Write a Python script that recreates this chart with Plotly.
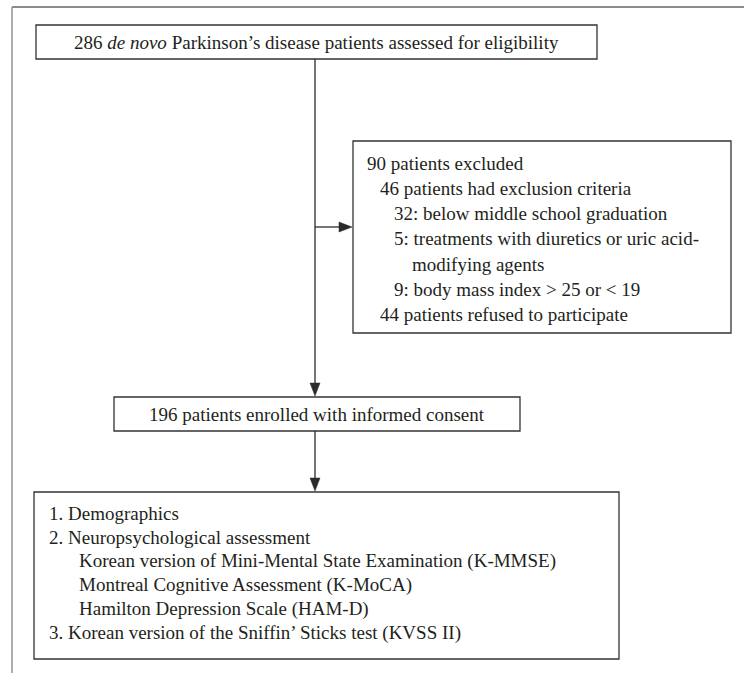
import plotly.graph_objects as go

# ---- content ----
top_text = "286 <i>de novo</i> Parkinson’s disease patients assessed for eligibility"
excl_lines = [
    "90 patients excluded",
    "46 patients had exclusion criteria",
    "32: below middle school graduation",
    "5: treatments with diuretics or uric acid-",
    "modifying agents",
    "9: body mass index > 25 or < 19",
    "44 patients refused to participate",
]
excl_indent = [0, 1, 2, 2, 3, 2, 1]
enrolled_text = "196 patients enrolled with informed consent"
assess_lines = [
    "1. Demographics",
    "2. Neuropsychological assessment",
    "Korean version of Mini-Mental State Examination (K-MMSE)",
    "Montreal Cognitive Assessment (K-MoCA)",
    "Hamilton Depression Scale (HAM-D)",
    "3. Korean version of the Sniffin’ Sticks test (KVSS II)",
]
assess_indent = [0, 0, 1, 1, 1, 0]

# ---- layout geometry (pixel-like coordinate system) ----
W, H = 744, 673
FONT = "Liberation Serif, Times New Roman, serif"
TXT = "#231f20"
BOX = "#333333"

boxes = {
    "top": (36, 25, 597, 59),
    "excl": (353, 141, 731, 333),
    "enr": (114, 397, 520, 431),
    "assess": (34, 492, 619, 659),
}

shapes = []
annotations = []

# outer frame (top and left rules)
shapes.append(dict(type="line", x0=12, y0=7, x1=W, y1=7, line=dict(color="#8c8c8c", width=2.2)))
shapes.append(dict(type="line", x0=12, y0=7, x1=12, y1=H, line=dict(color="#8c8c8c", width=1.4)))

for (x0, y0, x1, y1) in boxes.values():
    shapes.append(dict(type="rect", x0=x0, y0=y0, x1=x1, y1=y1,
                       line=dict(color=BOX, width=1.3), fillcolor="rgba(0,0,0,0)"))

cx = 315
arrow_col = "#2a2a2a"


def vline(x, y0, y1):
    shapes.append(dict(type="line", x0=x, y0=y0, x1=x, y1=y1, line=dict(color=arrow_col, width=1.3)))


def hline(y, x0, x1):
    shapes.append(dict(type="line", x0=x0, y0=y, x1=x1, y1=y, line=dict(color=arrow_col, width=1.3)))


def head_down(x, ytip, w=5, l=13):
    shapes.append(dict(type="path", path=f"M {x-w},{ytip-l} L {x+w},{ytip-l} L {x},{ytip} Z",
                       fillcolor=arrow_col, line=dict(color=arrow_col, width=0.5)))


def head_right(xtip, y, w=5, l=13):
    shapes.append(dict(type="path", path=f"M {xtip-l},{y-w} L {xtip-l},{y+w} L {xtip},{y} Z",
                       fillcolor=arrow_col, line=dict(color=arrow_col, width=0.5)))


# main vertical connector top -> enrolled
vline(cx, 59, 383)
head_down(cx, 396)
# branch to exclusion box
hline(227, cx, 341)
head_right(352, 227)
# enrolled -> assessment
vline(cx, 431, 479)
head_down(cx, 491)

FS = 19
# top box text
annotations.append(dict(x=(36 + 597) / 2, y=42, text=top_text, showarrow=False,
                        xanchor="center", yanchor="middle",
                        font=dict(family=FONT, size=FS, color=TXT)))
# exclusion lines
excl_x = [365, 378, 392, 410]
excl_y0, excl_dy = 163, 25.3
for i, (t, ind) in enumerate(zip(excl_lines, excl_indent)):
    annotations.append(dict(x=excl_x[ind], y=excl_y0 + i * excl_dy, text=t, showarrow=False,
                            xanchor="left", yanchor="middle",
                            font=dict(family=FONT, size=FS, color=TXT)))
# enrolled
annotations.append(dict(x=(114 + 520) / 2, y=414, text=enrolled_text, showarrow=False,
                        xanchor="center", yanchor="middle",
                        font=dict(family=FONT, size=FS, color=TXT)))
# assessment lines
ass_x = [47, 77]
ass_y0, ass_dy = 513, 24
for i, (t, ind) in enumerate(zip(assess_lines, assess_indent)):
    annotations.append(dict(x=ass_x[ind], y=ass_y0 + i * ass_dy, text=t, showarrow=False,
                            xanchor="left", yanchor="middle",
                            font=dict(family=FONT, size=FS, color=TXT)))

fig = go.Figure()
fig.update_layout(
    width=W, height=H,
    margin=dict(l=0, r=0, t=0, b=0),
    paper_bgcolor="white", plot_bgcolor="white",
    xaxis=dict(range=[0, W], visible=False, fixedrange=True),
    yaxis=dict(range=[H, 0], visible=False, fixedrange=True),
    shapes=shapes, annotations=annotations, showlegend=False,
)
fig.write_html("out.html",
               post_script="document.body.style.margin='0';document.body.style.overflow='hidden';",
               config={"displayModeBar": False})
